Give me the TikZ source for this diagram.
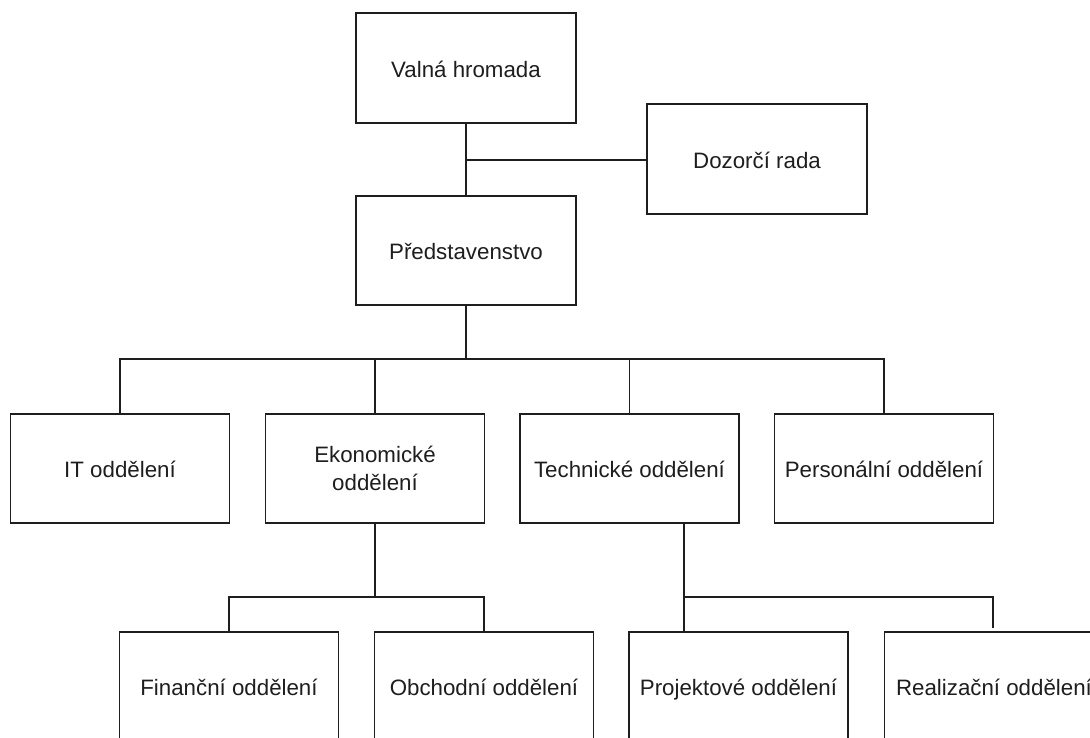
\documentclass[tikz,border=0pt]{standalone}
\usepackage{fontspec}
\setmainfont{Liberation Sans}
\usetikzlibrary{calc}
\definecolor{ink}{HTML}{1E1E1E}
\begin{document}
\begin{tikzpicture}[x=1pt,y=-1pt,
  unit/.style={draw=ink, line width=1.8pt, fill=white, minimum width=219pt,
    minimum height=109pt, inner sep=0pt, text=ink, align=center,
    font=\fontsize{22.3}{27.5}\selectfont},
  oneline/.style={unit, text height=19pt, text depth=1pt},
  link/.style={draw=ink, line width=1.8pt}]
\clip (0,0) rectangle (1090,737);
\fill[white] (0,0) rectangle (1090,737);

% top management
\node[oneline, minimum width=220pt, minimum height=110pt] (valna) at (466,68) {Valná hromada};
\node[oneline, minimum width=220pt, minimum height=110pt] (dozor) at (757,159) {Dozorčí rada};
\node[oneline, minimum width=220pt] (pred) at (466,250.5) {Představenstvo};

% departments
\node[oneline] (it)   at (120,468.5)   {IT oddělení};
\node[unit]    (eko)  at (375,468.5)   {\rule{0pt}{0pt}\raisebox{-3pt}{Ekonomické}\\\raisebox{-3pt}{oddělení}};
\node[oneline] (tech) at (629.5,468.5) {Technické oddělení};
\node[oneline] (pers) at (884,468.5)   {Personální oddělení};

% sub-departments
\node[oneline] (fin)  at (229,686.5)   {Finanční oddělení};
\node[oneline] (obch) at (484,686.5)   {Obchodní oddělení};
\node[oneline] (proj) at (738.5,686.5) {Projektové oddělení};
\node[oneline] (real) at (994,686.5)   {Realizační oddělení};

% junction points
\coordinate (j1) at (466,160);
\coordinate (bus) at (466,359);
\coordinate (ekobus) at (375,597);
\coordinate (techout) at (684,523);
\coordinate (techbus) at (684,597);
\coordinate (realend) at (993,628);

% connectors
\draw[link] (valna.south) -- (pred.north);
\draw[link] (j1) -- (j1 -| dozor.west);
\draw[link] (pred.south) -- (bus);
\draw[link] (it.north) |- (bus) -| (pers.north);
\draw[link] (eko.north) -- (eko.north |- bus);
\draw[link] (tech.north) -- (tech.north |- bus);

\draw[link] (eko.south) -- (ekobus);
\draw[link] (fin.north) |- (ekobus) -| (obch.north);

\draw[link] (techout) -- (techbus) -- (techbus |- proj.north);
\draw[link] (techbus) -| (realend);
\end{tikzpicture}
\end{document}
